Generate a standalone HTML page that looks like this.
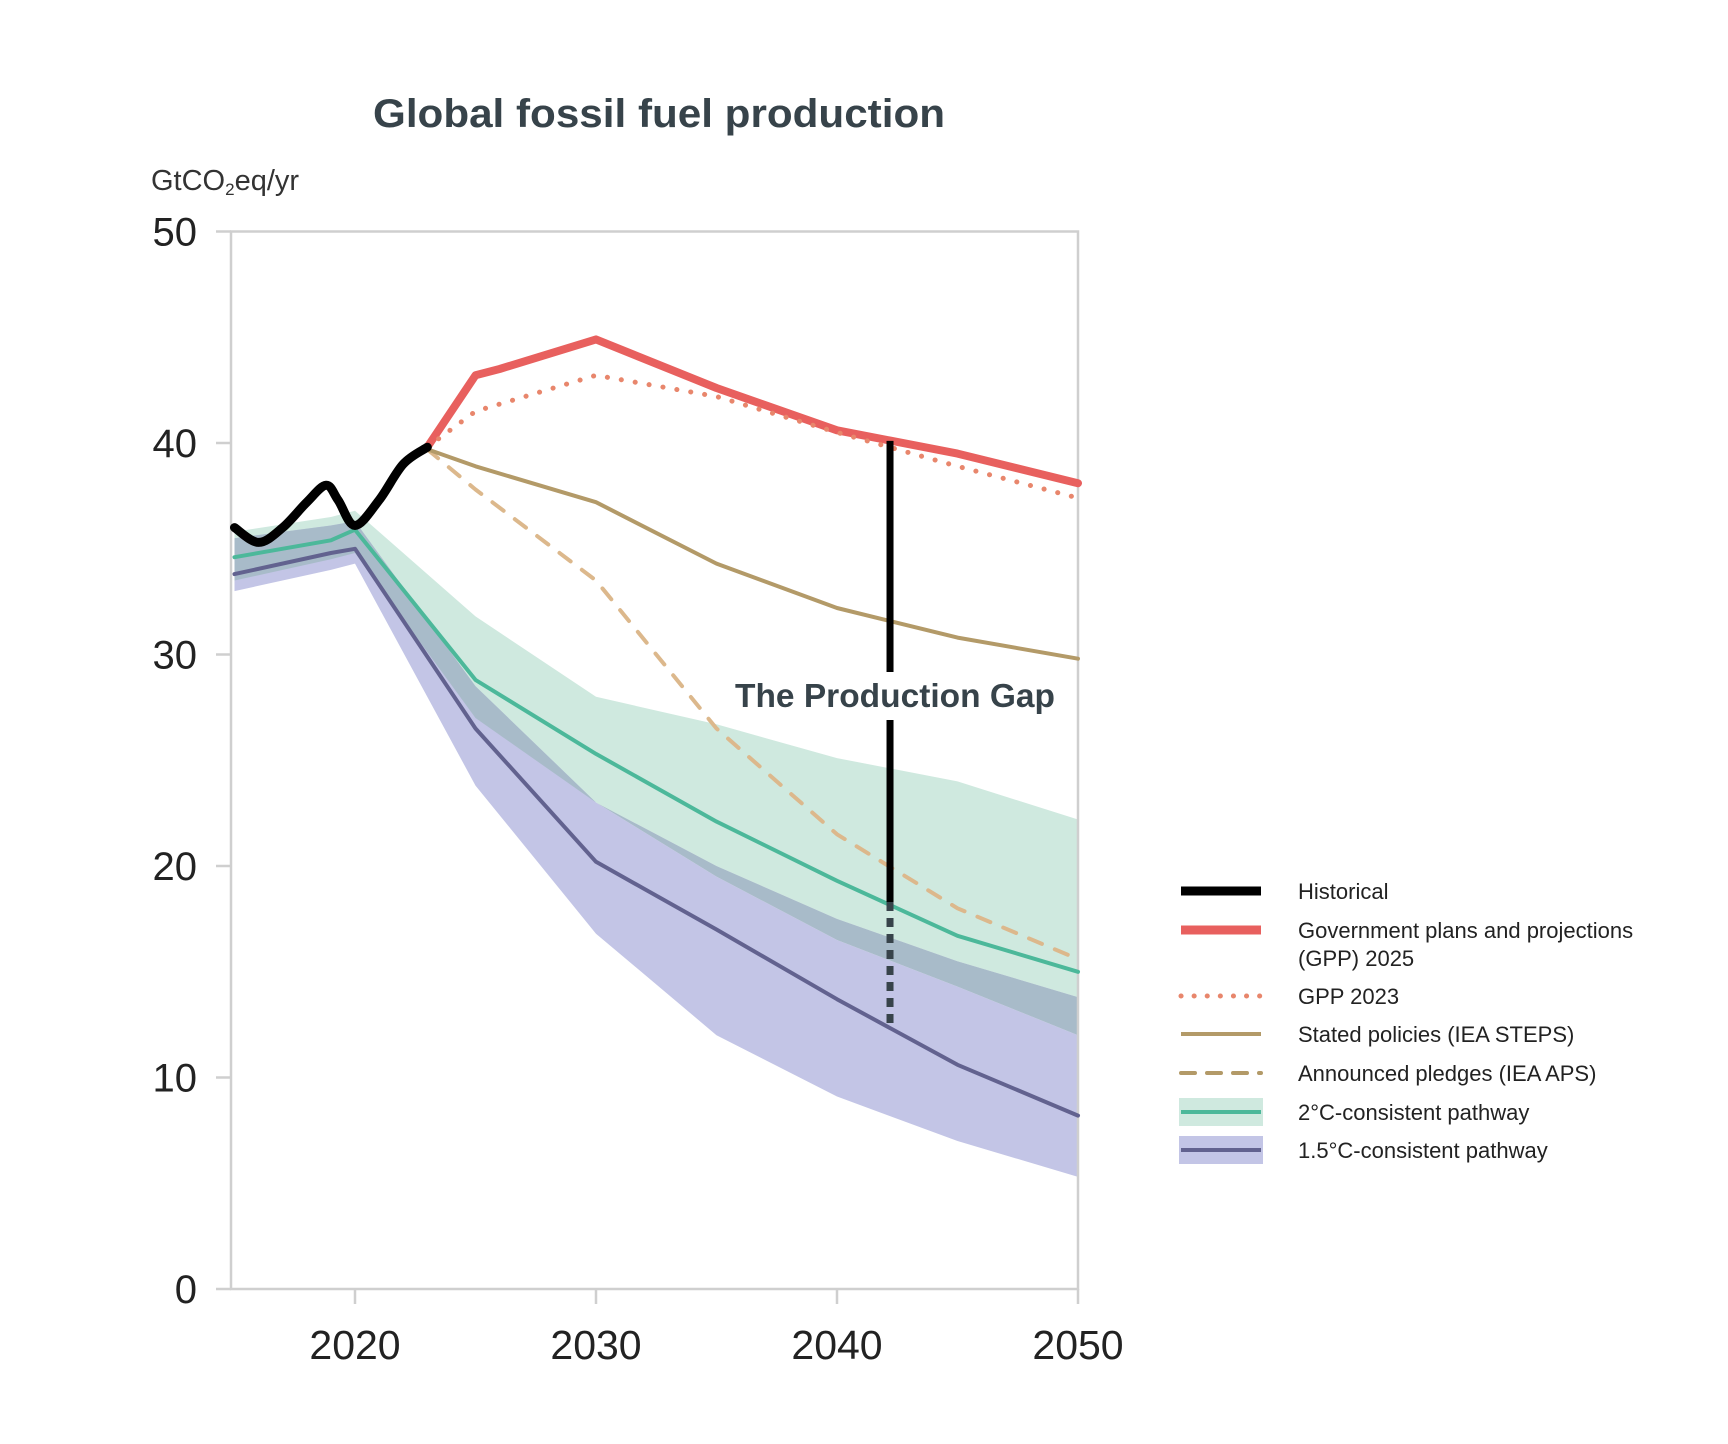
<!DOCTYPE html>
<html><head><meta charset="utf-8"><style>
html,body{margin:0;padding:0;background:#fff;}
svg{display:block;font-family:"Liberation Sans",sans-serif;}
</style></head><body>
<svg id="chart" width="1728" height="1444" viewBox="0 0 1728 1444" xmlns="http://www.w3.org/2000/svg">
<text x="659" y="127" text-anchor="middle" font-size="40" font-weight="bold" fill="#37434a" textLength="572" lengthAdjust="spacingAndGlyphs">Global fossil fuel production</text>
<text x="151" y="190" font-size="29" fill="#333">GtCO<tspan font-size="17" dy="5">2</tspan><tspan dy="-5">eq/yr</tspan></text>
<g id="bands"></g><g id="axes"></g><g id="lines"></g><g id="gap"></g><g id="legend"></g>
</svg>
<script>
const yearsHist=[2015,2016,2017,2018,2018.8,2019.3,2020,2021,2022,2023];
const valsHist=[36,35.3,36,37.2,38,37.3,36.1,37.3,39,39.8];
const yearsProj=[2023,2025,2026,2030,2035,2040,2045,2050];
const gpp2025=[39.8,43.2,43.5,44.9,42.6,40.6,39.5,38.1];
const yearsMain=[2023,2025,2030,2035,2040,2045,2050];
const gpp2023=[39.8,41.5,43.2,42.2,40.5,38.9,37.4];
const steps=[39.7,38.9,37.2,34.3,32.2,30.8,29.8];
const aps=[39.7,37.8,33.5,26.5,21.5,18.0,15.6];
const yearsPath=[2015,2019,2020,2025,2030,2035,2040,2045,2050];
const c2Mid=[34.6,35.4,35.9,28.8,25.3,22.1,19.3,16.7,15.0];
const c2Hi=[35.8,36.5,36.8,31.8,28.0,26.7,25.1,24.0,22.2];
const c2Lo=[33.5,34.5,34.8,27.0,23.0,20.0,17.5,15.5,13.8];
const c15Mid=[33.8,34.8,35.0,26.5,20.2,17.0,13.7,10.6,8.2];
const c15Hi=[35.5,36.1,36.3,28.5,23.0,19.5,16.5,14.3,12.0];
const c15Lo=[33.0,34.0,34.3,23.8,16.8,12.0,9.1,7.0,5.3];
const yTicks=[0,10,20,30,40,50];
const xTicks=[2020,2030,2040,2050];
const gapYear=2042.2, gapTop=40.1, gapMid=18.3, gapBottom=12.5;

const NS='http://www.w3.org/2000/svg';
const X=y=>355+(y-2020)*24.1;
const Y=v=>1289-v*21.15;
function mk(parent,tag,attrs){const e=document.createElementNS(NS,tag);for(const k in attrs)e.setAttribute(k,attrs[k]);document.getElementById(parent).appendChild(e);return e;}
function pts(xs,vs){return xs.map((x,i)=>X(x).toFixed(1)+','+Y(vs[i]).toFixed(1)).join(' ');}
function smoothPath(xs,vs){let p=xs.map((x,i)=>[X(x),Y(vs[i])]);let d='M'+p[0][0]+','+p[0][1];for(let i=0;i<p.length-1;i++){const p0=p[Math.max(0,i-1)],p1=p[i],p2=p[i+1],p3=p[Math.min(p.length-1,i+2)];const c1=[p1[0]+(p2[0]-p0[0])/6,p1[1]+(p2[1]-p0[1])/6],c2=[p2[0]-(p3[0]-p1[0])/6,p2[1]-(p3[1]-p1[1])/6];d+=` C${c1[0]},${c1[1]} ${c2[0]},${c2[1]} ${p2[0]},${p2[1]}`;}return d;}
function band(hi,lo){return pts(yearsPath,hi)+' '+yearsPath.slice().reverse().map((x,i)=>X(x).toFixed(1)+','+Y(lo[lo.length-1-i]).toFixed(1)).join(' ');}

let e;
e=mk('bands','polygon',{points:band(c2Hi,c2Lo),fill:'#cfe9df'});


e=mk('bands','polygon',{points:band(c15Hi,c15Lo),fill:'#c3c5e6'});


const ovHi=c15Hi.map((v,i)=>Math.min(v,c2Hi[i])),ovLo=c2Lo.map((v,i)=>Math.max(v,c15Lo[i]));
e=mk('bands','polygon',{points:band(ovHi,ovLo),fill:'#a8bbc9'});



e=mk('axes','path',{d:`M231,${Y(50)} H1078 V1289 H231 Z`,fill:'none',stroke:'#cfcfcf','stroke-width':2.5});


yTicks.forEach(v=>{
 e=mk('axes','line',{x1:216,x2:231,y1:Y(v),y2:Y(v),stroke:'#cfcfcf','stroke-width':2.5});
 
 
 e=mk('axes','text',{x:197,y:Y(v)+14,'text-anchor':'end','font-size':40,fill:'#222'});e.textContent=v;
 
 
});
xTicks.forEach(v=>{
 e=mk('axes','line',{x1:X(v),x2:X(v),y1:1289,y2:1304,stroke:'#cfcfcf','stroke-width':2.5});
 
 
 e=mk('axes','text',{x:X(v),y:1359,'text-anchor':'middle','font-size':41,fill:'#222'});e.textContent=v;
 
 
});

function line(xs,vs,stroke,w,dash){const a={points:pts(xs,vs),fill:'none',stroke:stroke,'stroke-width':w,'stroke-linejoin':'round','stroke-linecap':'round'};if(dash)a['stroke-dasharray']=dash;return mk('lines','polyline',a);}
e=line(yearsPath,c15Mid,'#62628f',4);


e=line(yearsPath,c2Mid,'#4cb89a',4);


e=line(yearsMain,aps,'#dcb88c',4,'14 14');


e=line(yearsMain,steps,'#b39a68',4);


e=line(yearsProj,gpp2025,'#e8605e',8);


e=line(yearsMain,gpp2023,'#e8866c',5,'0.1 14');


e=mk('lines','path',{d:smoothPath(yearsHist,valsHist),fill:'none',stroke:'#000','stroke-width':9,'stroke-linecap':'round','stroke-linejoin':'round'});



const gx=X(gapYear);
e=mk('gap','line',{x1:gx,x2:gx,y1:Y(gapTop),y2:672,stroke:'#000','stroke-width':7});


e=mk('gap','line',{x1:gx,x2:gx,y1:720,y2:Y(gapMid),stroke:'#000','stroke-width':7});


e=mk('gap','line',{x1:gx,x2:gx,y1:Y(gapMid),y2:Y(gapBottom),stroke:'#37434a','stroke-width':7,'stroke-dasharray':'9 7'});


e=mk('gap','text',{x:895,y:707,'text-anchor':'middle','font-size':33,'font-weight':'bold',fill:'#37434a',textLength:320,lengthAdjust:'spacingAndGlyphs'});e.textContent='The Production Gap';



const legY=[891,930,996,1034,1073,1112,1150];
const legText=[['Historical'],['Government plans and projections','(GPP) 2025'],['GPP 2023'],['Stated policies (IEA STEPS)'],['Announced pledges (IEA APS)'],['2°C-consistent pathway'],['1.5°C-consistent pathway']];
const legNames=['historical','gpp-2025','gpp-2023','steps','aps','2c','1-5c'];
legY.forEach((y,i)=>{
 const g=mk('legend','g',{});
 
 
 const add=(tag,a)=>{const el=document.createElementNS(NS,tag);for(const k in a)el.setAttribute(k,a[k]);g.appendChild(el);return el;};
 if(i===5)add('rect',{x:1179,y:y-14,width:84,height:28,fill:'#cfe9df'});
 if(i===6)add('rect',{x:1179,y:y-14,width:84,height:28,fill:'#c3c5e6'});
 const st=[{s:'#000',w:9},{s:'#e8605e',w:9},{s:'#e8866c',w:5,d:'0.1 13'},{s:'#b39a68',w:4},{s:'#b39a68',w:4,d:'14 12'},{s:'#4cb89a',w:4},{s:'#62628f',w:4}][i];
 const a={x1:1181,x2:1261,y1:y,y2:y,stroke:st.s,'stroke-width':st.w};
 if(st.d){a['stroke-dasharray']=st.d;a['stroke-linecap']='round';}
 add('line',a);
 legText[i].forEach((t,j)=>{const tx=add('text',{x:1298,y:y+8+j*28,'font-size':22,fill:'#222'});tx.textContent=t;});
});
</script>
</body></html>
